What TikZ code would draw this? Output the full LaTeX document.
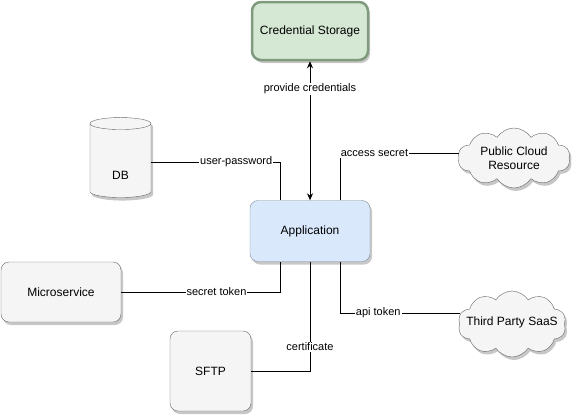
\documentclass[tikz,border=0pt]{standalone}
\usepackage{fontspec}
\setmainfont{Liberation Sans}
\usetikzlibrary{shapes.geometric,shapes.symbols,shadows,arrows.meta}
\definecolor{boxgray}{HTML}{F5F5F5}
\definecolor{linegray}{HTML}{666666}
\definecolor{credfill}{HTML}{D5E8D4}
\definecolor{credline}{HTML}{7F9A7D}
\definecolor{appfill}{HTML}{DAE8FC}
\definecolor{appline}{HTML}{7D8B99}
\begin{document}
\begin{tikzpicture}[x=1pt, y=-1pt,
  shade box/.style={drop shadow={shadow xshift=2pt, shadow yshift=-3pt, fill=black, opacity=0.22}},
  gray box/.style={rectangle, rounded corners=8pt, draw=linegray, fill=boxgray, shade box, font=\fontsize{12}{14}\selectfont},
  store box/.style={rectangle, rounded corners=9pt, draw=credline, line width=2.5pt, fill=credfill, shade box,
    minimum width=116pt, minimum height=58pt, font=\fontsize{12}{14}\selectfont},
  app box/.style={rectangle, rounded corners=8pt, draw=appline, fill=appfill, shade box,
    minimum width=120pt, minimum height=61pt, font=\fontsize{12}{14}\selectfont},
  db node/.style={cylinder, shape border rotate=90, aspect=1.8, draw=linegray, fill=boxgray, shade box,
    minimum width=61pt, minimum height=80pt},
  cloud node/.style={cloud, cloud puffs=10, cloud puff arc=115, draw=linegray, fill=boxgray, shade box, inner sep=0pt},
  in text/.style={align=center, font=\fontsize{12}{14}\selectfont},
  key label/.style={fill=white, inner sep=1pt, font=\fontsize{11}{13}\selectfont},
  link/.style={draw=black, line width=0.8pt}
  ]
  \useasboundingbox (0,0) rectangle (575,416);

  \node[store box] (cred) at (310,31) {Credential Storage};
  \node[app box] (app) at (310,231) {Application};
  \node[db node, label={[in text, yshift=-13pt]center:DB}] (db) at (120.5,162) {};
  \node[cloud node, minimum width=112pt, minimum height=60pt,
    label={[in text]center:Public Cloud\\Resource}] (pub) at (514,158) {};
  \node[gray box, minimum width=120pt, minimum height=60pt] (micro) at (61,292) {Microservice};
  \node[gray box, minimum width=81pt, minimum height=80pt] (sftp) at (210.5,371) {SFTP};
  \node[cloud node, minimum width=108pt, minimum height=66pt,
    label={[in text, yshift=2pt]center:Third Party SaaS}] (saas) at (512,324) {};

  \draw[link, {Stealth[length=7pt,width=6pt]}-{Stealth[length=7pt,width=6pt]}] (cred) -- node[key label, pos=0.2] {provide credentials} (app);

  \draw[link] (db.east) -| ([xshift=-30pt]app.north) node[key label, pos=0.33] {user-password};
  \draw[link] ([xshift=30pt]app.north) |- ([yshift=5pt]pub.west) node[key label, pos=0.645] {access secret};
  \draw[link] (micro.east) -| ([xshift=-30pt]app.south) node[key label, pos=0.3] {secret token};
  \draw[link] (app.south) |- (sftp.east) node[key label, pos=0.39] {certificate};
  \draw[link] ([xshift=30pt]app.south) |- ([yshift=11pt]saas.west) node[key label, pos=0.66] {api token};

\end{tikzpicture}
\end{document}
